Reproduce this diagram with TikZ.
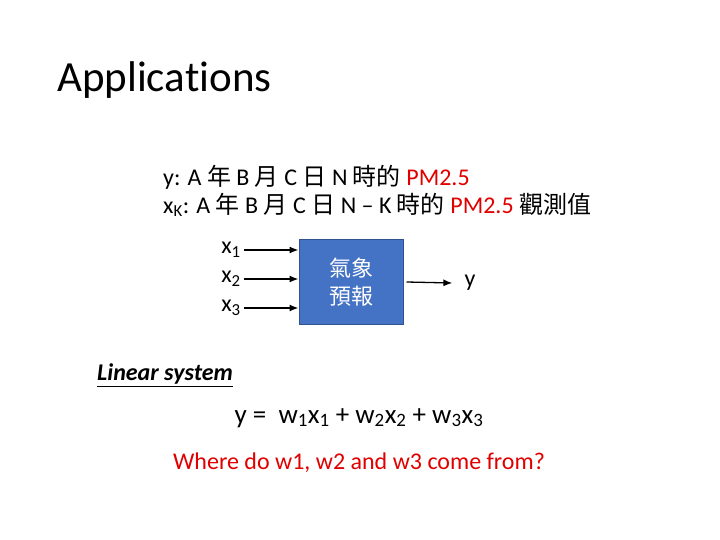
\documentclass[tikz,border=0pt]{standalone}
\usepackage{fontspec}
\setmainfont[Ligatures=NoCommon]{Carlito}
\newfontfamily\cjk{Noto Sans CJK TC}
\usetikzlibrary{arrows.meta,positioning}
\definecolor{pptblue}{HTML}{4472C4}
\definecolor{pptedge}{HTML}{2F528F}
\definecolor{pptred}{HTML}{E00000}
\begin{document}
\begin{tikzpicture}[x=1pt,y=-1pt,
      txt/.style={inner sep=0pt, font=\fontsize{24}{28}\selectfont},
      myarrow/.style={-{Latex[length=9pt,width=7pt]}, line width=1.3pt},
      model/.style={rectangle, draw=pptedge, line width=1pt, fill=pptblue,
         text=white, minimum width=104pt, minimum height=85pt,
         align=center, font=\fontsize{22}{28}\selectfont\cjk}
      ]
\useasboundingbox (0,0) rectangle (720,540);
\node[anchor=west, inner sep=0pt, font=\fontsize{43}{46}\selectfont] (title) at (57,80) {Applica\kern0ptt\kern0pti\kern0ptons};

\node[txt, anchor=west] (ydef) at (163,177) {y: A {\cjk 年} B {\cjk 月} C {\cjk 日} N {\cjk 時的} \textcolor{pptred}{PM2.5}};
\node[txt, anchor=west] (xdef) at (163,205) {x\textsubscript{K}: A {\cjk 年} B {\cjk 月} C {\cjk 日} N -- K {\cjk 時的} \textcolor{pptred}{PM2.5} {\cjk 觀測值}};

\node[model] (box) at (351,282) {氣象\\預報};

\node[txt] (x1) at (231,250) {x\textsubscript{1}};
\node[txt] (x2) at (231,279) {x\textsubscript{2}};
\node[txt] (x3) at (231,308) {x\textsubscript{3}};
\node[txt] (y) at (470,283) {y};

\foreach \i in {x1,x2,x3}
   \draw[myarrow] ([xshift=3pt]\i.east) -- (\i.east -| box.west);
\draw[myarrow] ([xshift=3pt]box.east) -- ([xshift=-12pt]y.west);

\node[txt, anchor=west, font=\fontsize{24}{28}\selectfont\bfseries\itshape] (lin) at (97,375) {\underline{Linear system}};
\node[txt, font=\fontsize{27}{30}\selectfont] (eq) at (359,418) {y = \ w\textsubscript{1}x\textsubscript{1} + w\textsubscript{2}x\textsubscript{2} + w\textsubscript{3}x\textsubscript{3}};
\node[txt, text=pptred] (q) at (359,463) {Where do w1, w2 and w3 come from?};
\end{tikzpicture}
\end{document}
